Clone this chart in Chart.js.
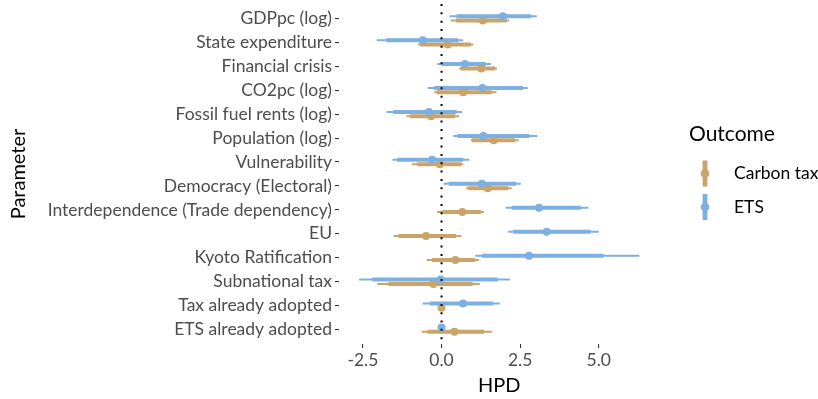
<!DOCTYPE html>
<html>
<head>
<meta charset="utf-8">
<script src="https://cdn.jsdelivr.net/npm/chart.js@4.4.1/dist/chart.umd.min.js"></script>
<style>
  body { margin: 0; background: #fff; }
  #wrap { width: 818px; height: 399px; }
</style>
</head>
<body>
<div id="wrap"><canvas id="chart" width="818" height="399"></canvas></div>
<script>
const params = ['GDPpc (log)', 'State expenditure', 'Financial crisis', 'CO2pc (log)', 'Fossil fuel rents (log)',
    'Population (log)', 'Vulnerability', 'Democracy (Electoral)', 'Interdependence (Trade dependency)', 'EU',
    'Kyoto Ratification', 'Subnational tax', 'Tax already adopted', 'ETS already adopted']
const xTicks = [-2.5, 0, 2.5, 5]
const outcomes = ['Carbon tax', 'ETS']

// ETS
const etsPoint   = [1.95, -0.60, 0.75, 1.30, -0.40, 1.33, -0.30, 1.28, 3.10, 3.34, 2.78, -0.03, 0.68, 0.00]
const etsInnerLo = [0.48, -1.76, 0.00, -0.23, -1.53, 0.50, -1.41, 0.23, 2.23, 2.28, 1.28, -2.20, -0.37, 0.00]
const etsInnerHi = [2.85, 0.53, 1.41, 2.59, 0.48, 2.79, 0.69, 2.37, 4.43, 4.74, 5.15, 1.79, 1.63, 0.00]
const etsOuterLo = [0.25, -2.06, -0.14, -0.44, -1.75, 0.37, -1.56, 0.07, 2.04, 2.12, 1.07, -2.62, -0.60, 0.00]
const etsOuterHi = [3.03, 0.69, 1.57, 2.74, 0.65, 3.04, 0.88, 2.52, 4.67, 5.00, 6.29, 2.17, 1.85, 0.00]

// Carbon tax
const taxPoint   = [1.31, 0.20, 1.26, 0.69, -0.33, 1.66, -0.05, 1.47, 0.66, -0.49, 0.44, -0.26, 0.00, 0.41]
const taxInnerLo = [0.46, -0.68, 0.61, -0.15, -1.00, 0.96, -0.77, 0.85, 0.03, -1.37, -0.30, -1.69, 0.00, -0.45]
const taxInnerHi = [2.07, 0.93, 1.70, 1.60, 0.43, 2.34, 0.62, 2.12, 1.25, 0.46, 1.07, 0.99, 0.00, 1.35]
const taxOuterLo = [0.29, -0.75, 0.56, -0.23, -1.11, 0.93, -0.94, 0.78, -0.14, -1.53, -0.47, -2.04, 0.00, -0.63]
const taxOuterHi = [2.15, 1.01, 1.76, 1.75, 0.56, 2.46, 0.69, 2.23, 1.35, 0.63, 1.19, 1.22, 0.00, 1.60]

const TAX = '#C9A46B'
const ETS = '#7DAFE0'
const FONT = 'Lato'

const segs = (lo, hi, off) => lo.flatMap((l, i) => [{x: l, y: i + off}, {x: hi[i], y: i + off}, {x: null, y: null}])
const pts = (v, off) => v.map((x, i) => ({x, y: i + off}))
const line = (data, color, w) => ({type: 'line', data, borderColor: color, borderWidth: w, pointRadius: 0, spanGaps: false, borderCapStyle: 'butt'})

// ggplot-like legend on the right
const outcomeLegend = {
    id: 'outcomeLegend',
    afterDraw(chart) {
        const c = chart.ctx
        c.save()
        c.textBaseline = 'middle'
        c.textAlign = 'left'
        c.fillStyle = '#000'
        c.font = `21px ${FONT}`
        c.fillText('Outcome', 689, 134)
        ;[TAX, ETS].forEach((col, i) => {
            const cy = 173.5 + i * 33.5
            c.fillStyle = col
            c.fillRect(702.6, cy - 13, 4.8, 26)
            c.beginPath(); c.arc(705, cy, 4.3, 0, Math.PI * 2); c.fill()
            c.fillStyle = '#000'
            c.font = `17.5px ${FONT}`
            c.fillText(outcomes[i], 734, cy)
        })
        c.restore()
    }
}

new Chart(document.getElementById('chart'), {
    type: 'line',
    data: {
        datasets: [
            {type: 'line', data: [{x: 0, y: -0.6}, {x: 0, y: 13.6}], borderColor: '#000', borderWidth: 2, borderDash: [2, 6.33], pointRadius: 0},
            {type: 'scatter', data: pts(etsPoint, -0.09), backgroundColor: ETS, borderWidth: 0, pointRadius: 4},
            line(segs(etsInnerLo, etsInnerHi, -0.09), ETS, 4),
            line(segs(etsOuterLo, etsOuterHi, -0.09), ETS, 2),
            {type: 'scatter', data: pts(taxPoint, 0.09), backgroundColor: TAX, borderWidth: 0, pointRadius: 4},
            line(segs(taxInnerLo, taxInnerHi, 0.09), TAX, 4),
            line(segs(taxOuterLo, taxOuterHi, 0.09), TAX, 2),
        ]
    },
    options: {
        responsive: false,
        animation: false,
        devicePixelRatio: 1,
        layout: {padding: {top: 4, right: 158.5, bottom: 0, left: 0}},
        scales: {
            x: {
                type: 'linear',
                min: -3.26,
                max: 6.93,
                afterBuildTicks: axis => { axis.ticks = xTicks.map(value => ({value})) },
                afterFit: axis => { axis.height = 55; axis.paddingLeft = 0; axis.paddingRight = 0 },
                ticks: {
                    callback: v => v.toFixed(1),
                    color: '#4D4D4D',
                    font: {family: FONT, size: 17.5},
                    padding: 2
                },
                grid: {drawOnChartArea: false, drawTicks: true, tickLength: 4, color: '#333', lineWidth: 1.1},
                border: {display: false},
                title: {display: true, text: 'HPD', color: '#000', font: {family: FONT, size: 20}, padding: {top: 0, bottom: 1}}
            },
            y: {
                type: 'linear',
                min: -0.6,
                max: 13.6,
                reverse: true,
                afterBuildTicks: axis => { axis.ticks = params.map((p, i) => ({value: i})) },
                afterFit: axis => { axis.width = 339; axis.paddingTop = 0; axis.paddingBottom = 0 },
                ticks: {
                    callback: v => params[v],
                    color: '#4D4D4D',
                    font: {family: FONT, size: 17.5},
                    padding: 3,
                    autoSkip: false
                },
                grid: {drawOnChartArea: false, drawTicks: true, tickLength: 4, color: '#333', lineWidth: 1.1},
                border: {display: false},
                title: {display: true, text: 'Parameter', color: '#000', font: {family: FONT, size: 20}, padding: {top: 7, bottom: 0}}
            }
        },
        plugins: {
            tooltip: {enabled: false},
            legend: {display: false}
        }
    },
    plugins: [outcomeLegend]
})
</script>
</body>
</html>
